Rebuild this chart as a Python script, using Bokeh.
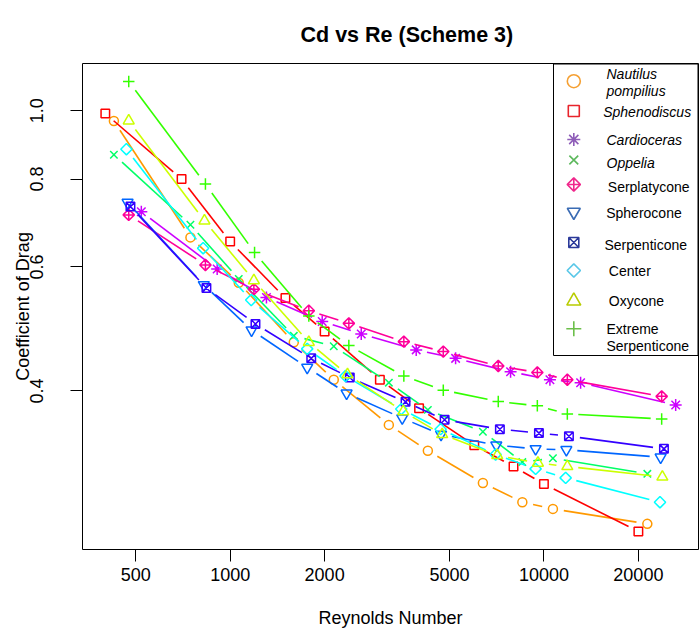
import math
from bokeh.plotting import figure
from bokeh.models import FixedTicker, CustomJSTickFormatter, Title, Range1d
from bokeh.embed import file_html
from bokeh.resources import INLINE
from bokeh.core.properties import value

# ---------------- data ----------------
names = ["Nautilus pompilius", "Sphenodiscus", "Cardioceras", "Oppelia", "Serplatycone",
         "Spherocone", "Serpenticone", "Center", "Oxycone", "Extreme Serpenticone"]

re_nautilus = [426, 747, 1065, 1595, 2139, 3204, 4266, 6390, 8535, 10683, 21360]
cd_nautilus = [0.967, 0.661, 0.570, 0.469, 0.415, 0.358, 0.329, 0.296, 0.278, 0.272, 0.259]

re_spheno = [400, 700, 1000, 1500, 2000, 3000, 4000, 6000, 8000, 10000, 20000]
cd_spheno = [0.991, 0.800, 0.652, 0.542, 0.486, 0.415, 0.378, 0.335, 0.3125, 0.295, 0.2526]

re_cardio = [521, 909, 1305, 1965, 2617, 3917, 5230, 7830, 10450, 13090, 26300]
cd_cardio = [0.719, 0.596, 0.543, 0.502, 0.482, 0.4575, 0.445, 0.426, 0.415, 0.411, 0.382]

re_oppelia = [426, 747, 1065, 1595, 2139, 3204, 4266, 6390, 8535, 10683, 21360]
cd_oppelia = [0.866, 0.689, 0.577, 0.479, 0.463, 0.411, 0.376, 0.350, 0.317, 0.321, 0.305]

re_serplat = [475, 834, 1190, 1781, 2389, 3577, 4778, 7153, 9528, 11874, 23730]
cd_serplat = [0.7115, 0.604, 0.558, 0.520, 0.499, 0.470, 0.455, 0.434, 0.425, 0.415, 0.393]

re_sphero = [471, 824, 1170, 1760, 2350, 3535, 4700, 7050, 9408, 11790, 23550]
cd_sphero = [0.741, 0.566, 0.488, 0.432, 0.397, 0.366, 0.347, 0.335, 0.331, 0.330, 0.322]

re_serpent = [481, 840, 1204, 1813, 2406, 3622, 4825, 7238, 9640, 12015, 24130]
cd_serpent = [0.731, 0.560, 0.498, 0.445, 0.418, 0.386, 0.364, 0.353, 0.3485, 0.345, 0.331]

re_center = [467, 820, 1167, 1760, 2332, 3510, 4685, 7015, 9408, 11728, 23440]
cd_center = [0.882, 0.638, 0.5385, 0.459, 0.420, 0.377, 0.353, 0.325, 0.310, 0.301, 0.278]

re_oxy = [475, 828, 1190, 1781, 2366, 3562, 4740, 7100, 9570, 11874, 23850]
cd_oxy = [0.968, 0.698, 0.574, 0.469, 0.422, 0.374, 0.347, 0.324, 0.316, 0.3125, 0.302]

re_extreme = [475, 834, 1196, 1781, 2389, 3577, 4778, 7153, 9528, 11874, 23730]
cd_extreme = [1.1006, 0.787, 0.629, 0.511, 0.464, 0.420, 0.401, 0.3865, 0.381, 0.371, 0.365]

x_ticks = [500, 1000, 2000, 5000, 10000, 20000]
y_ticks = [0.4, 0.6, 0.8, 1.0]

# ---------------- styling ----------------
FONT = "Liberation Sans"
FRAME_L, FRAME_T, FRAME_W, FRAME_H = 82, 63, 616, 486

series = [
    # re, cd, marker, angle, size, color
    (re_nautilus, cd_nautilus, "circle", 0, 9, "#FF9900"),
    (re_spheno, cd_spheno, "square", 0, 8.5, "#FF0000"),
    (re_cardio, cd_cardio, "asterisk", 0, 12, "#CC00FF"),
    (re_oppelia, cd_oppelia, "x", 0, 10.5, "#00FF66"),
    (re_serplat, cd_serplat, "square_x", math.pi / 4, 8, "#FF0099"),
    (re_sphero, cd_sphero, "inverted_triangle", 0, 11, "#0066FF"),
    (re_serpent, cd_serpent, "square_x", 0, 8.5, "#3300FF"),
    (re_center, cd_center, "square", math.pi / 4, 8, "#00FFFF"),
    (re_oxy, cd_oxy, "triangle", 0, 11, "#CCFF00"),
    (re_extreme, cd_extreme, "cross", 0, 11.5, "#33FF00"),
]

all_x = [v for s in series for v in s[0]]
all_y = [v for s in series for v in s[1]]
lx0, lx1 = math.log10(min(all_x)), math.log10(max(all_x))
ly0, ly1 = math.log10(min(all_y)), math.log10(max(all_y))
px_ext = 0.04 * (lx1 - lx0)
py_ext = 0.04 * (ly1 - ly0)
lx0, lx1 = lx0 - px_ext, lx1 + px_ext
ly0, ly1 = ly0 - py_ext, ly1 + py_ext

p = figure(width=700, height=643, x_axis_type="log", y_axis_type="log",
           x_range=Range1d(10 ** lx0, 10 ** lx1), y_range=Range1d(10 ** ly0, 10 ** ly1),
           output_backend="svg", toolbar_location=None,
           min_border_left=FRAME_L, min_border_right=700 - FRAME_L - FRAME_W,
           min_border_top=FRAME_T, min_border_bottom=643 - FRAME_T - FRAME_H)
p.grid.visible = False
p.outline_line_color = "black"
p.outline_line_width = 1
p.background_fill_color = "white"
p.border_fill_color = "white"

t = Title(text="Cd vs Re (Scheme 3)", text_font=FONT, text_font_style="bold",
          text_font_size="21.5px", align="left", offset=218, standoff=33, text_color="black")
p.add_layout(t, "above")

for ax in (p.xaxis[0], p.yaxis[0]):
    ax.axis_line_color = None
    ax.major_tick_out = 12
    ax.major_tick_in = 0
    ax.minor_tick_out = 0
    ax.minor_tick_in = 0
    ax.major_tick_line_color = "black"
    ax.major_label_text_font = FONT
    ax.major_label_text_font_size = "18px"
    ax.major_label_text_color = "black"
    ax.axis_label_text_font = FONT
    ax.axis_label_text_font_size = "18px"
    ax.axis_label_text_font_style = "normal"
    ax.axis_label_text_color = "black"

p.xaxis.ticker = FixedTicker(ticks=x_ticks)
p.yaxis.ticker = FixedTicker(ticks=y_ticks)
p.xaxis.formatter = CustomJSTickFormatter(code="return tick.toFixed(0);")
p.yaxis.formatter = CustomJSTickFormatter(code="return tick.toFixed(1);")
p.xaxis.axis_label = "Reynolds Number"
p.yaxis.axis_label = "Coefficient of Drag"
p.xaxis.major_label_standoff = 6
p.xaxis.axis_label_standoff = 24
p.yaxis.major_label_orientation = "vertical"
p.yaxis.major_label_standoff = 27
p.yaxis.axis_label_standoff = -5

# pixel scale of the log axes
sx = FRAME_W / (lx1 - lx0)
sy = FRAME_H / (ly1 - ly0)
GAP = 11.0

for re, cd, marker, ang, size, color in series:
    x0s, y0s, x1s, y1s = [], [], [], []
    for i in range(len(re) - 1):
        ax_, ay_ = math.log10(re[i]), math.log10(cd[i])
        bx_, by_ = math.log10(re[i + 1]), math.log10(cd[i + 1])
        L = math.hypot((bx_ - ax_) * sx, (by_ - ay_) * sy)
        if L <= 2 * GAP:
            continue
        f = GAP / L
        x0s.append(10 ** (ax_ + f * (bx_ - ax_)))
        y0s.append(10 ** (ay_ + f * (by_ - ay_)))
        x1s.append(10 ** (bx_ - f * (bx_ - ax_)))
        y1s.append(10 ** (by_ - f * (by_ - ay_)))
    p.segment(x0s, y0s, x1s, y1s, line_color=color, line_width=1.6)
    p.scatter(re, cd, marker=marker, angle=ang, size=size, line_color=color,
              fill_color=None, line_width=1.5)

# ---------------- legend (drawn manually, top-right corner) ----------------
def dx(px):
    return 10 ** (lx0 + (px - FRAME_L) / FRAME_W * (lx1 - lx0))

def dy(py):
    return 10 ** (ly1 - (py - FRAME_T) / FRAME_H * (ly1 - ly0))

p.quad(left=[dx(553)], right=[dx(697.5)], top=[dy(FRAME_T + 0.5)], bottom=[dy(355)],
       fill_color="white", line_color="black", line_width=1)

legend_items = [
    # marker, angle, size, color, sym_y, text lines (y), text x, italic
    ("circle", 0, 13, "#F5A033", 80.7, [("Nautilus", 73.3), ("pompilius", 90.7)], 606, True),
    ("square", 0, 11, "#E8242C", 110.5, [("Sphenodiscus", 111.7)], 602.7, True),
    ("asterisk", 0, 13, "#8E5DB8", 139, [("Cardioceras", 139)], 606, True),
    ("x", 0, 12.5, "#5CB85C", 159.5, [("Oppelia", 162.7)], 606, True),
    ("square_x", math.pi / 4, 9.4, "#F0288C", 184, [("Serplatycone", 186)], 607.3, False),
    ("inverted_triangle", 0, 13, "#3B6CB4", 211.5, [("Spherocone", 212.7)], 605.7, False),
    ("square_x", 0, 10, "#2B3A9A", 242, [("Serpenticone", 244)], 604, False),
    ("square", math.pi / 4, 9.4, "#5BC8E8", 270, [("Center", 270.7)], 608.3, False),
    ("triangle", 0, 14, "#B8CC00", 300.5, [("Oxycone", 300)], 608.3, False),
    ("cross", 0, 15, "#6CBF4A", 328.3, [("Extreme", 328.3), ("Serpenticone", 345)], 606, False),
]

for marker, ang, size, color, sym_y, lines, tx, italic in legend_items:
    p.scatter([dx(573.3)], [dy(sym_y)], marker=marker, angle=ang, size=size,
              line_color=color, fill_color=None, line_width=1.6)
    p.text(x=[dx(tx)] * len(lines), y=[dy(ly) for _, ly in lines],
           text=[s for s, _ in lines], text_font=value(FONT), text_font_size="14px",
           text_font_style="italic" if italic else "normal",
           text_color="black", text_align="left", text_baseline="middle")

open("out.html", "w").write(file_html(p, INLINE))
